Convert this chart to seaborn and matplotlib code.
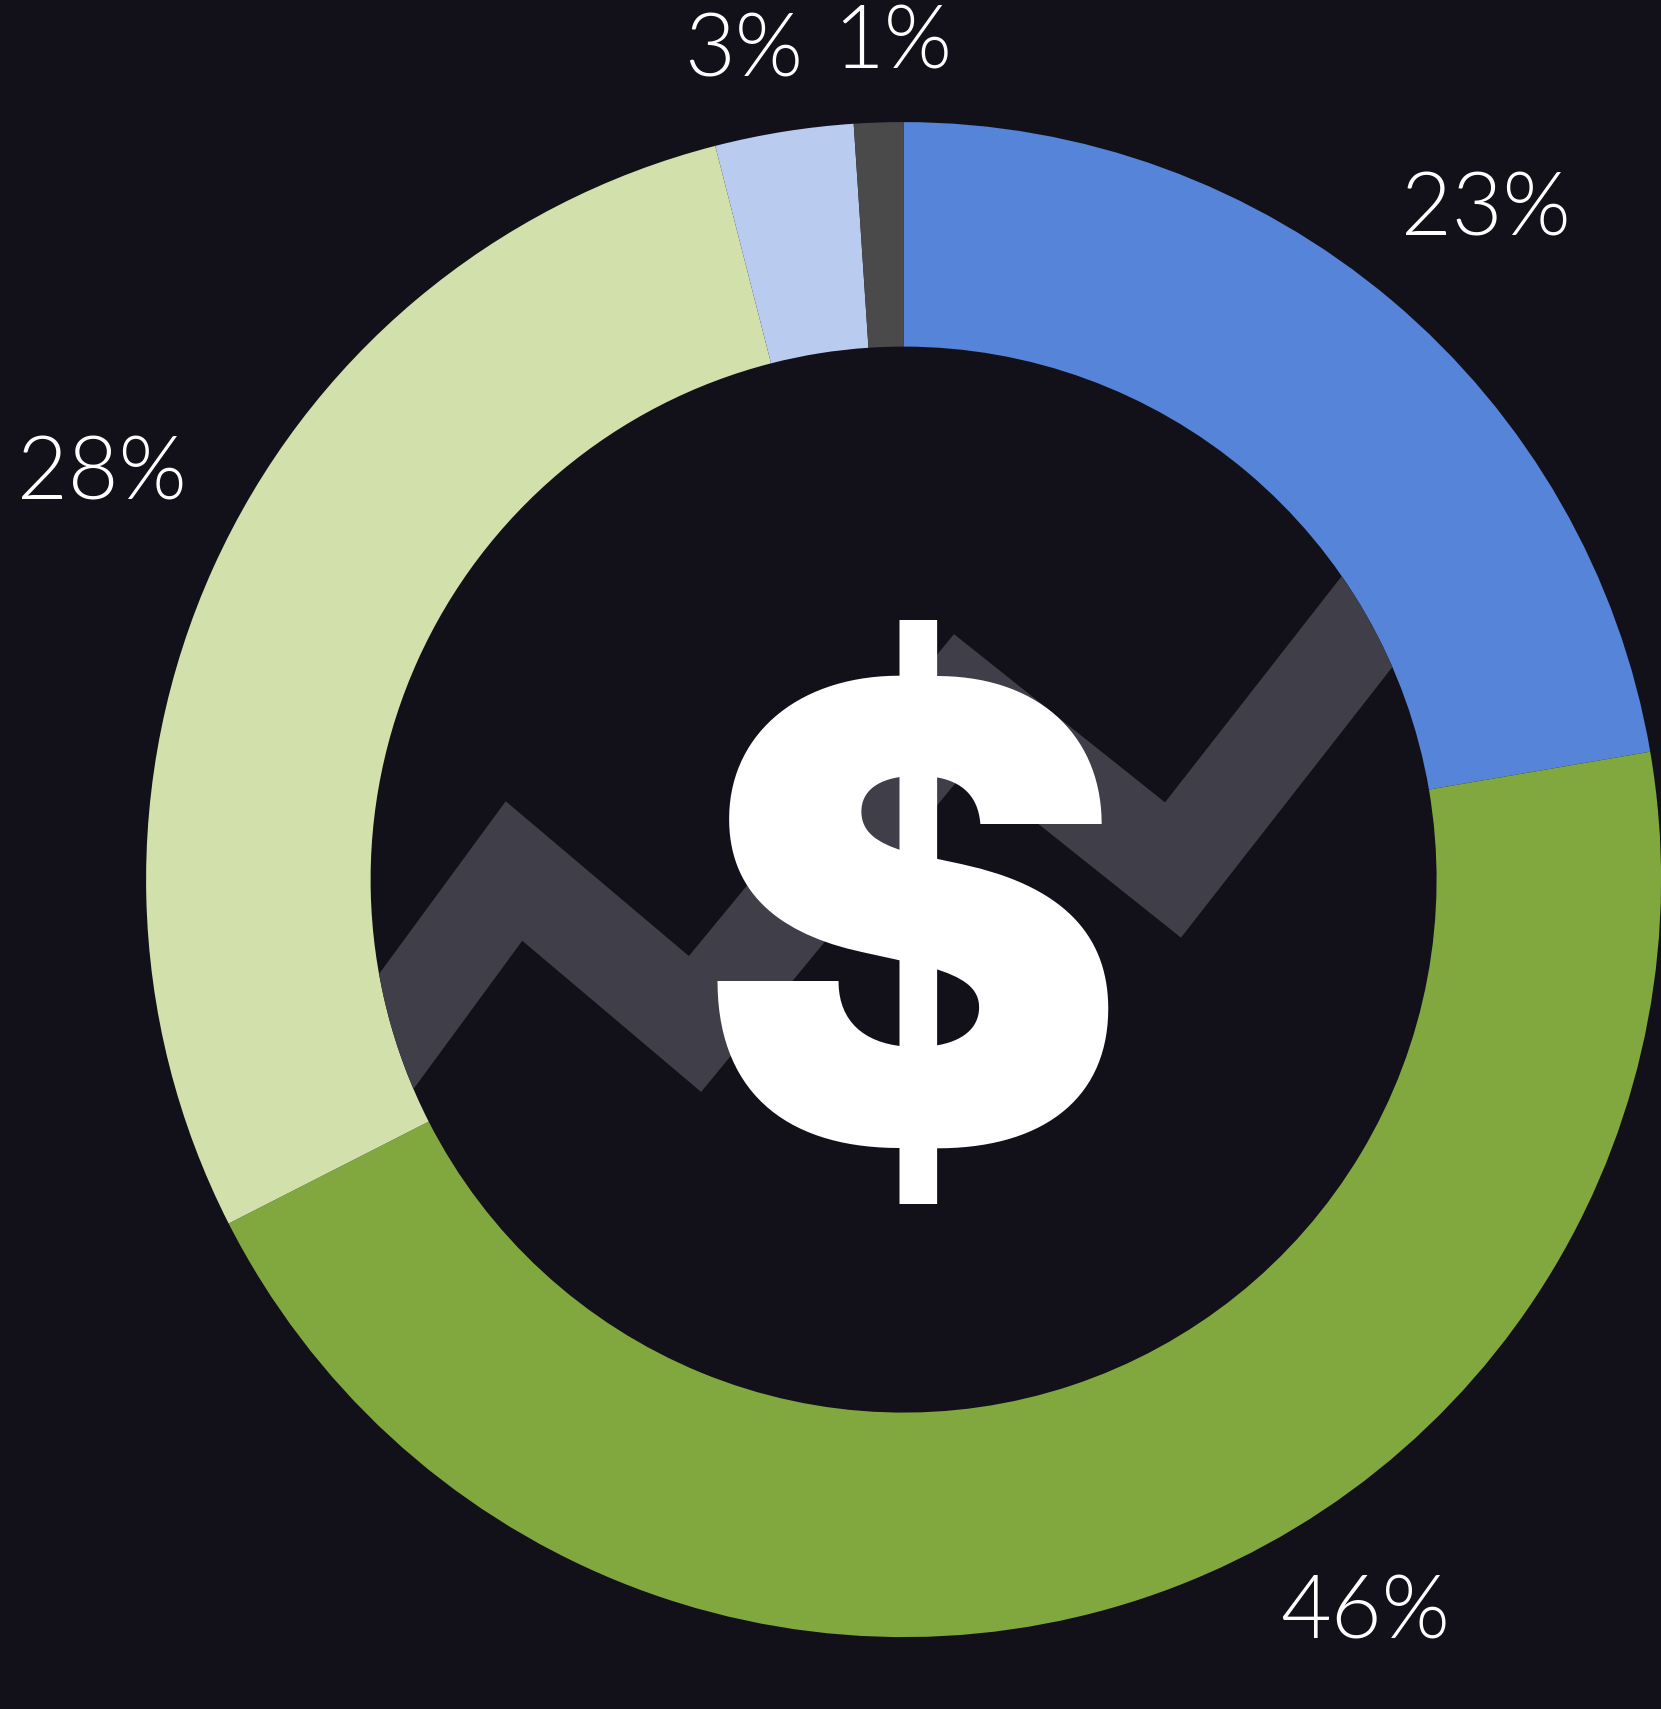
import matplotlib
matplotlib.use("Agg")
import matplotlib.pyplot as plt
import seaborn as sns
from matplotlib.patches import Circle

# slices, clockwise from 12 o'clock
shares = [22.3, 45.2, 28.5, 2.95, 1.05]
labels = ["23%", "46%", "28%", "3%", "1%"]
colors = ["#5584d9", "#80a83f", "#d2e1ac", "#b9ccf0", "#4a4a4a"]

# trend line behind the dollar sign, in figure pixels
trend_x = [324, 514, 695, 961, 1173, 1437]
trend_y = [1130, 871, 1024, 701, 870, 532]

label_x = [1486, 1365, 102, 744, 893]
label_y = [211, 1614, 475, 52, 44]

bg = "#12111a"
W, H = 1661, 1709
cx, cy, R, r = 903.6, 879.6, 757.5, 533.0

sns.set_theme(style="white")
plt.rcParams["font.family"] = ["Lato", "DejaVu Sans"]

fig = plt.figure(figsize=(W / 100, H / 100), dpi=100, facecolor=bg)
ax = fig.add_axes([0, 0, 1, 1])
ax.set_xlim(0, W)
ax.set_ylim(H, 0)
ax.set_aspect("equal")
ax.axis("off")
ax.set_zorder(2)

hole = Circle((cx, cy), r, transform=ax.transData)
line = ax.plot(trend_x, trend_y, color="#403e48", lw=69, solid_joinstyle="miter",
               solid_capstyle="butt", zorder=1)[0]
line.set_clip_path(hole)

# pie wants a y-up axes, so it gets its own one laid exactly over the circle
pie_ax = fig.add_axes([(cx - R) / W, 1 - (cy + R) / H, 2 * R / W, 2 * R / H])
pie_ax.patch.set_alpha(0)
pie_ax.pie(shares, colors=colors, startangle=90, counterclock=False, radius=1,
           wedgeprops=dict(width=1 - r / R, linewidth=0))
pie_ax.set_xlim(-1, 1)
pie_ax.set_ylim(-1, 1)

for t, x, y in zip(labels, label_x, label_y):
    ax.text(x, y, t, color="white", fontsize=63, fontweight=300, ha="center", va="center", zorder=5)

ax.text(912, 978, "$", color="white", fontsize=462, family="Inter", fontweight=900,
        ha="center", va="center", zorder=5)
fig.savefig("out.png", dpi=100, facecolor=bg)
